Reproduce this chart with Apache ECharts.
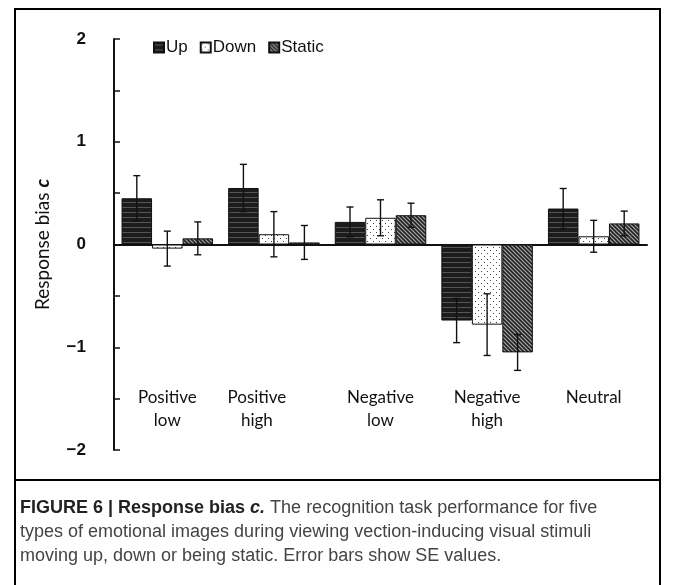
<!DOCTYPE html>
<html>
<head>
<meta charset="utf-8">
<script src="https://cdn.jsdelivr.net/npm/echarts@6/dist/echarts.min.js"></script>
<style>
  html, body { margin: 0; padding: 0; background: #fff; }
  #chart { width: 673px; height: 585px; }
</style>
</head>
<body>
<div id="chart"></div>
<script>
var categories = ['Positive\nlow', 'Positive\nhigh', 'Negative\nlow', 'Negative\nhigh', 'Neutral'];
var seriesNames = ['Up', 'Down', 'Static'];
var upMean = [0.45, 0.55, 0.22, -0.74, 0.35];
var upSE = [0.22, 0.23, 0.145, 0.215, 0.195];
var downMean = [-0.04, 0.10, 0.26, -0.78, 0.08];
var downSE = [0.17, 0.22, 0.175, 0.30, 0.155];
var staticMean = [0.06, 0.02, 0.285, -1.05, 0.205];
var staticSE = [0.16, 0.165, 0.117, 0.175, 0.12];
var yTickLabels = { '2': '2', '1': '1', '0': '0', '-1': '\u22121', '-2': '\u22122' };

// fill patterns for the bars
function makePattern(kind) {
    var c = document.createElement('canvas');
    var ctx = c.getContext('2d');
    if (kind === 'up') {
        c.width = 4; c.height = 5;
        ctx.fillStyle = '#1c1c1c';
        ctx.fillRect(0, 0, 4, 5);
        ctx.fillStyle = '#555';
        ctx.fillRect(0, 2, 4, 1);
    } else if (kind === 'down') {
        c.width = 6; c.height = 6;
        ctx.fillStyle = '#fff';
        ctx.fillRect(0, 0, 6, 6);
        ctx.fillStyle = '#444';
        ctx.fillRect(1, 1, 1, 1);
        ctx.fillRect(4, 4, 1, 1);
    } else {
        c.width = 4; c.height = 4;
        ctx.fillStyle = '#a8a8a8';
        ctx.fillRect(0, 0, 4, 4);
        ctx.strokeStyle = '#222';
        ctx.lineWidth = 1.6;
        ctx.beginPath();
        ctx.moveTo(-1, -1); ctx.lineTo(5, 5);
        ctx.moveTo(-1, 3); ctx.lineTo(1, 5);
        ctx.moveTo(3, -1); ctx.lineTo(5, 1);
        ctx.stroke();
    }
    return { image: c, repeat: 'repeat' };
}

var barW = 30.5;
var means = [upMean, downMean, staticMean];
var ses = [upSE, downSE, staticSE];
var fills = [makePattern('up'), makePattern('down'), makePattern('static')];

function errData(k) {
    var d = [];
    for (var i = 0; i < categories.length; i++) {
        d.push([i, means[k][i], ses[k][i]]);
    }
    return d;
}

function errRender(k) {
    return function(params, api) {
        var c = api.value(0), m = api.value(1), s = api.value(2);
        var hi = api.coord([c, m + s]);
        var lo = api.coord([c, m - s]);
        var x = hi[0] + (k - 1) * barW;
        var st = { stroke: '#111', lineWidth: 1.4 };
        return {
            type: 'group',
            children: [
                { type: 'line', shape: { x1: x, y1: hi[1], x2: x, y2: lo[1] }, style: st },
                { type: 'line', shape: { x1: x - 3.5, y1: hi[1], x2: x + 3.5, y2: hi[1] }, style: st },
                { type: 'line', shape: { x1: x - 3.5, y1: lo[1], x2: x + 3.5, y2: lo[1] }, style: st }
            ]
        };
    };
}

// "Positive high" sits a little left of its group in the original
var labelData = categories.map(function(c, i) {
    if (i === 1) return { value: c, textStyle: { padding: [0, 34, 0, 0] } };
    return c;
});

var series = [];
for (var k = 0; k < 3; k++) {
    series.push({
        name: seriesNames[k],
        type: 'bar',
        barWidth: barW,
        barGap: '0%',
        data: means[k],
        itemStyle: { color: fills[k], borderColor: '#111', borderWidth: 1 },
        z: 2
    });
}
for (var k2 = 0; k2 < 3; k2++) {
    series.push({
        type: 'custom',
        renderItem: errRender(k2),
        data: errData(k2),
        encode: { x: 0, y: 1 },
        z: 5,
        silent: true
    });
}

var myChart = echarts.init(document.getElementById('chart'));
var option = {
    animation: false,
    backgroundColor: '#fff',
    grid: { left: 114, right: 26, top: 39, bottom: 135, outerBoundsMode: 'none', containLabel: false },
    legend: {
        data: seriesNames,
        left: 148,
        top: 34,
        itemWidth: 10,
        itemHeight: 10,
        itemGap: 12,
        icon: 'rect',
        textStyle: { fontFamily: 'Liberation Sans', fontSize: 17, color: '#111', padding: [0, 0, 0, -3] }
    },
    xAxis: [{
        type: 'category',
        data: categories,
        axisLine: { onZero: true, lineStyle: { color: '#111', width: 2 } },
        axisTick: { inside: true, alignWithLabel: true, length: 4, lineStyle: { color: '#111', width: 1.5 } },
        axisLabel: { show: false }
    }, {
        // labels only, sitting inside the plot near the bottom
        type: 'category',
        data: labelData,
        position: 'bottom',
        axisLine: { show: false, onZero: false },
        axisTick: { show: false },
        axisLabel: {
            margin: -64,
            fontFamily: 'Lato',
            fontSize: 17,
            lineHeight: 23,
            color: '#111',
            verticalAlign: 'top'
        }
    }],
    yAxis: {
        type: 'value',
        min: -2,
        max: 2,
        interval: 0.5,
        splitLine: { show: false },
        axisLine: { show: true, lineStyle: { color: '#111', width: 2 } },
        axisTick: { show: true, inside: true, length: 6, lineStyle: { color: '#111', width: 1.5 } },
        axisLabel: {
            margin: 28,
            fontFamily: 'Liberation Sans',
            fontSize: 17,
            fontWeight: 'bold',
            color: '#111',
            formatter: function(v) {
                return yTickLabels[String(v)] || '';
            }
        },
        name: 'Response bias {c|c}',
        nameLocation: 'middle',
        nameGap: 62,
        nameTextStyle: {
            fontFamily: 'Lato',
            fontSize: 19,
            color: '#111',
            rich: { c: { fontFamily: 'Lato', fontSize: 19, fontWeight: 'bold', fontStyle: 'italic', color: '#111' } }
        }
    },
    graphic: [
        { type: 'rect', shape: { x: 15, y: 9, width: 645, height: 600 }, style: { fill: 'none', stroke: '#000', lineWidth: 2 } },
        { type: 'line', shape: { x1: 15, y1: 480, x2: 660, y2: 480 }, style: { stroke: '#000', lineWidth: 2 } },
        {
            type: 'text',
            x: 20,
            y: 496,
            style: {
                text: '{b|FIGURE 6 | Response bias }{bi|c.}{n| The recognition task performance for five}\n' +
                      '{n|types of emotional images during viewing vection-inducing visual stimuli}\n' +
                      '{n|moving up, down or being static. Error bars show SE values.}',
                rich: {
                    b: { fontFamily: 'Liberation Sans', fontSize: 18, fontWeight: 'bold', fill: '#222', lineHeight: 24 },
                    bi: { fontFamily: 'Liberation Sans', fontSize: 18, fontWeight: 'bold', fontStyle: 'italic', fill: '#222', lineHeight: 24 },
                    n: { fontFamily: 'Liberation Sans', fontSize: 18, fill: '#444', lineHeight: 24 }
                }
            }
        }
    ],
    series: series
};

myChart.setOption(option);
</script>
</body>
</html>
